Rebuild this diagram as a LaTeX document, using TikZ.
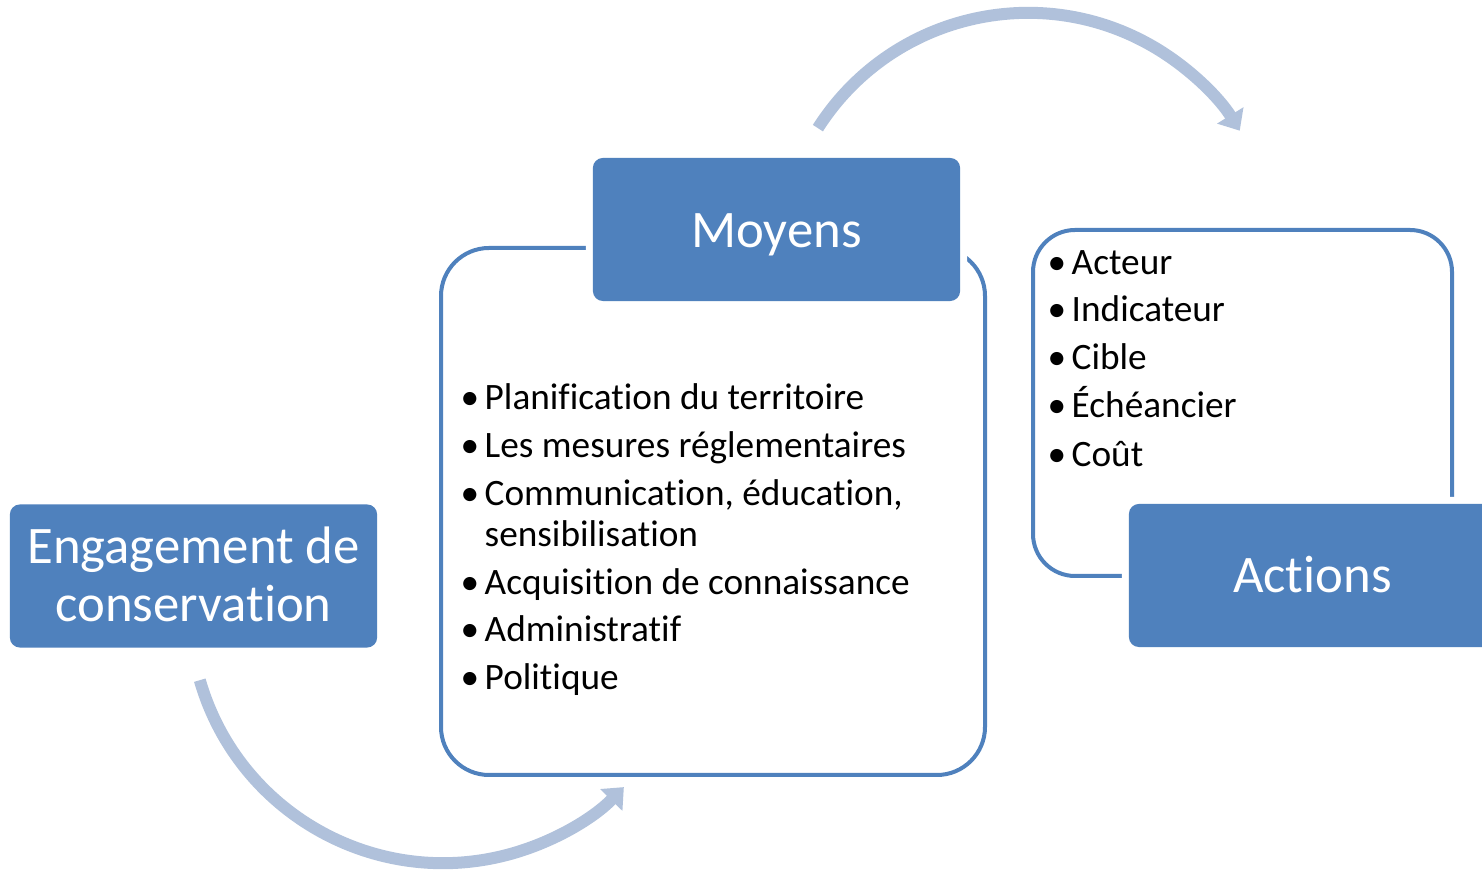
\documentclass[tikz,border=0pt]{standalone}
\usepackage{fontspec}
\setmainfont{Carlito}[Ligatures=CommonOff]
\usetikzlibrary{arrows.meta}
\definecolor{boxblue}{RGB}{79,129,189}
\definecolor{arcblue}{RGB}{176,193,219}
\tikzset{
  titlebox/.style={fill=boxblue, text=white, rounded corners=0.1cm,
    minimum width=3.67cm, minimum height=1.43cm, inner sep=0pt, align=center,
    font=\fontsize{15}{16.5}\selectfont,
    preaction={draw=white, line width=0.14cm}},
  outline/.style={draw=boxblue, line width=0.04cm},
  cyclearc/.style={draw=arcblue, line width=0.12cm, -{Triangle[length=0.18cm,width=0.3cm]}},
  item/.style={anchor=base west, inner sep=0pt, font=\fontsize{10.6}{12}\selectfont},
}
\newcommand{\bul}{\makebox[0.24cm][l]{\textbullet}}
\begin{document}
\begin{tikzpicture}[x=0.01cm,y=0.01cm]
\useasboundingbox (0,0) rectangle (1482,870);
\clip (0,0) rectangle (1482,870);

% outlines
\draw[outline, rounded corners=0.48cm] (441,95) rectangle (985,622);
\draw[outline, rounded corners=0.42cm] (1033,294) rectangle (1452,640);

% title boxes
\node[titlebox] (eng) at (193.5,294) {\raisebox{0.04cm}{Engagement de}\\\raisebox{0.04cm}{conservation}};
\node[titlebox, text depth=0pt] (moy) at (776.5,640.5) {\raisebox{-0.03cm}{Moyens}};
\node[titlebox] (act) at (1312.5,294.5) {\raisebox{0.02cm}{Actions}};

% Moyens list
\node[item] (m1) at (460,460) {\bul Planification du territoire};
\node[item] (m2) at (460,412) {\bul Les mesures réglementaires};
\node[item] (m3) at (460,364) {\bul Communication, éducation,};
\node[item] (m3b) at (484,323) {sensibilisation};
\node[item] (m4) at (460,275) {\bul Acquisition de connaissance};
\node[item] (m5) at (460,228) {\bul Administratif};
\node[item] (m6) at (460,180) {\bul Politique};

% Actions list
\node[item] (a1) at (1047,595) {\bul Acteur};
\node[item] (a2) at (1047,548) {\bul Indicateur};
\node[item] (a3) at (1047,500) {\bul Cible};
\node[item] (a4) at (1047,452) {\bul Échéancier};
\node[item] (a5) at (1047,403) {\bul Coût};

% cycle arrows
\coordinate (topc) at (1028,608);
\coordinate (botc) at (443,260);
\draw[cyclearc] ([shift={(147.5:2.49cm)}]topc) arc[start angle=147.5, end angle=31.8, radius=2.49cm];
\draw[cyclearc] ([shift={(196.1:2.53cm)}]botc) arc[start angle=196.1, end angle=315.6, radius=2.53cm];
\end{tikzpicture}
\end{document}
